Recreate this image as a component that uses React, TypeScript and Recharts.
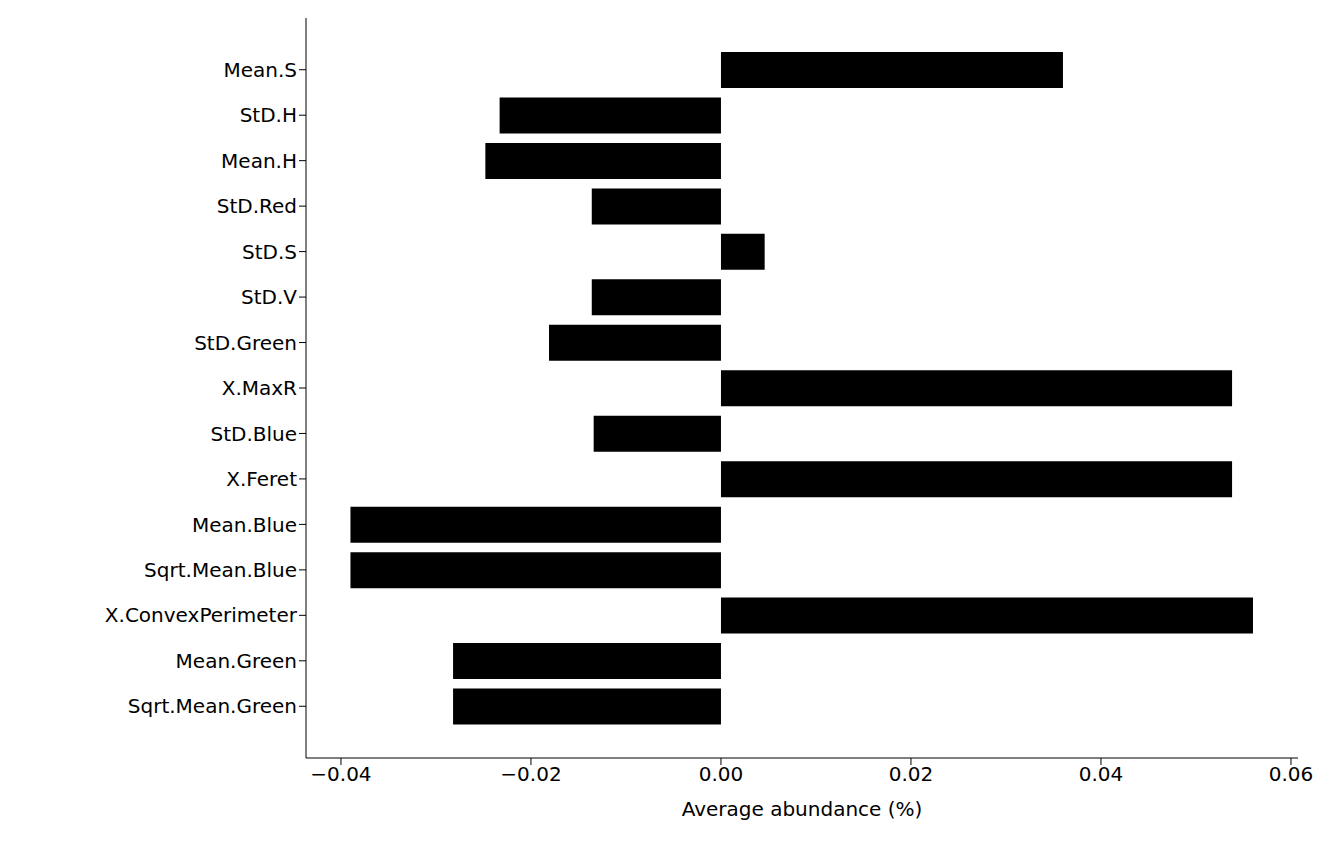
import React from "react";
import { BarChart, Bar, XAxis, YAxis, Label } from "recharts";

const features = [
  "Mean.S", "StD.H", "Mean.H", "StD.Red", "StD.S", "StD.V", "StD.Green", "X.MaxR",
  "StD.Blue", "X.Feret", "Mean.Blue", "Sqrt.Mean.Blue", "X.ConvexPerimeter", "Mean.Green", "Sqrt.Mean.Green",
];
const abundance = [
  0.036, -0.0233, -0.0248, -0.0136, 0.0046, -0.0136, -0.0181, 0.0538,
  -0.0134, 0.0538, -0.039, -0.039, 0.056, -0.0282, -0.0282,
];
const xTicks = [-0.04, -0.02, 0, 0.02, 0.04, 0.06];

const data = features.map((name, i) => ({ name, value: abundance[i] }));

const fmt = (v: number) => (v < 0 ? "\u2212" : "") + Math.abs(v).toFixed(2);
const font = { fontFamily: "DejaVu Sans", fontSize: 20, fill: "#000" };

export default function App() {
  return (
    <div style={{ width: 1335, height: 857 }}>
      <BarChart
        width={1335}
        height={857}
        data={data}
        layout="vertical"
        margin={{ top: 10, right: 45, bottom: 47, left: 0 }}
      >
        <XAxis
          type="number"
          domain={[-0.04368, 0.06074]}
          ticks={xTicks}
          tickFormatter={fmt}
          tick={font}
          tickSize={7}
          height={60}
          stroke="#000"
          allowDataOverflow
        >
          <Label value="Average abundance (%)" position="insideBottom" offset={2} style={font} />
        </XAxis>
        <XAxis xAxisId="top" orientation="top" type="number" domain={[0, 1]} tick={false} tickLine={false} height={0} stroke="#000" />
        <YAxis
          type="category"
          dataKey="name"
          width={298}
          tick={font}
          tickSize={7}
          stroke="#000"
          padding={{ top: 29, bottom: 29 }}
          interval={0}
        />
        <YAxis yAxisId="right" orientation="right" type="number" tick={false} tickLine={false} width={0} stroke="#000" />
        <Bar dataKey="value" fill="#000" barSize={36} isAnimationActive={false} />
      </BarChart>
    </div>
  );
}
